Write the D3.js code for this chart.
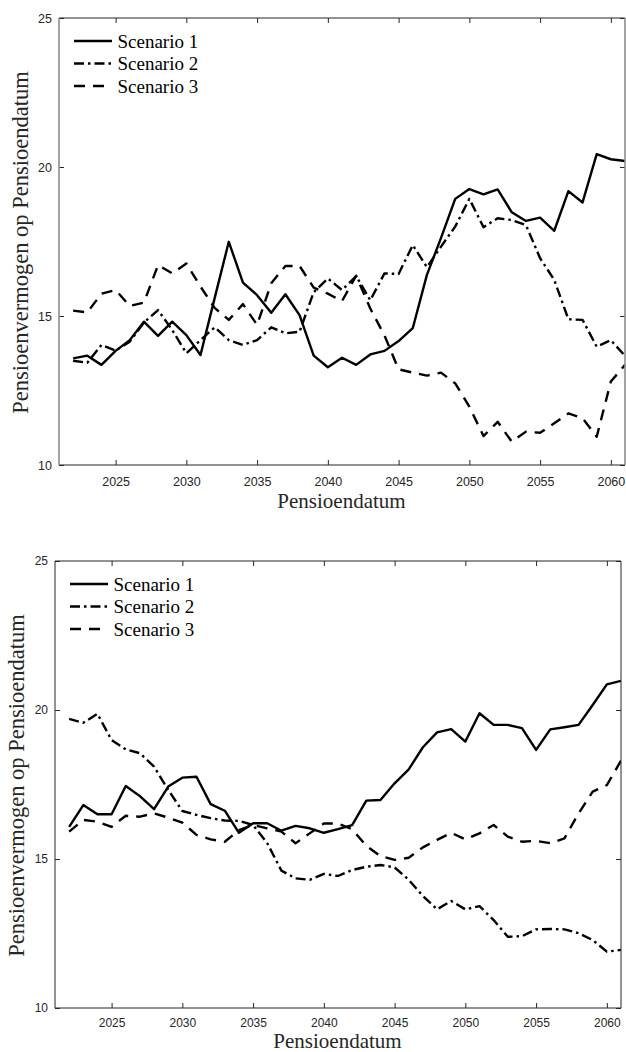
<!DOCTYPE html>
<html>
<head>
<meta charset="utf-8">
<script src="https://cdn.jsdelivr.net/npm/d3@7"></script>
<style>
  html, body { margin: 0; padding: 0; background: #fff; }
  svg { display: block; }
</style>
</head>
<body>
<svg id="chart" width="626" height="1052"></svg>
<script>
// ---------- DATA ----------
const years = [2022,2023,2024,2025,2026,2027,2028,2029,2030,2031,
               2032,2033,2034,2035,2036,2037,2038,2039,2040,2041,
               2042,2043,2044,2045,2046,2047,2048,2049,2050,2051,
               2052,2053,2054,2055,2056,2057,2058,2059,2060,2061];

const seriesNames = ["Scenario 1", "Scenario 2", "Scenario 3"];

// Top panel
const topScenario1 = [13.58,13.67,13.36,13.83,14.19,14.81,14.33,14.81,14.36,13.69,
                      15.60,17.49,16.12,15.70,15.11,15.73,15.03,13.67,13.28,13.60,
                      13.36,13.71,13.83,14.16,14.59,16.38,17.62,18.93,19.26,19.08,
                      19.25,18.48,18.19,18.30,17.86,19.19,18.81,20.43,20.26,20.20];
const topScenario2 = [13.50,13.43,14.03,13.84,14.14,14.78,15.20,14.53,13.75,14.19,
                      14.62,14.19,14.03,14.19,14.62,14.42,14.47,15.80,16.26,15.87,
                      16.34,15.53,16.43,16.41,17.38,16.64,17.33,18.00,18.93,17.98,
                      18.28,18.22,18.05,16.94,16.21,14.89,14.87,13.97,14.19,13.66];
const topScenario3 = [15.18,15.12,15.75,15.87,15.34,15.45,16.71,16.43,16.76,15.99,
                      15.27,14.87,15.40,14.70,16.10,16.68,16.68,15.95,15.75,15.50,
                      16.35,15.25,14.35,13.21,13.10,13.00,13.10,12.74,11.96,10.97,
                      11.45,10.78,11.12,11.08,11.40,11.73,11.57,10.95,12.80,13.36];

// Bottom panel
const botScenario1 = [16.08,16.81,16.50,16.50,17.45,17.11,16.67,17.43,17.73,17.76,
                      16.84,16.62,15.88,16.20,16.20,15.95,16.11,16.03,15.88,16.00,
                      16.14,16.96,16.98,17.54,18.01,18.75,19.25,19.36,18.94,19.89,
                      19.50,19.50,19.39,18.66,19.35,19.42,19.50,20.17,20.86,20.98];
const botScenario2 = [19.70,19.57,19.87,18.99,18.68,18.55,18.10,17.32,16.61,16.48,
                      16.37,16.29,16.28,16.14,15.53,14.61,14.35,14.30,14.50,14.43,
                      14.63,14.74,14.80,14.72,14.30,13.76,13.31,13.59,13.31,13.42,
                      12.95,12.39,12.41,12.64,12.65,12.64,12.51,12.28,11.89,11.95];
const botScenario3 = [15.92,16.31,16.25,16.08,16.45,16.42,16.53,16.39,16.22,15.81,
                      15.66,15.58,15.97,16.14,16.03,15.92,15.53,15.86,16.19,16.19,
                      16.00,15.44,15.10,14.97,15.04,15.39,15.64,15.88,15.66,15.86,
                      16.14,15.75,15.58,15.61,15.53,15.69,16.53,17.26,17.48,18.30];

const xTicks = [2025, 2030, 2035, 2040, 2045, 2050, 2055, 2060];
const yTicks = [10, 15, 20, 25];
const xDomain = [2021, 2061];
const yDomain = [10, 25];
const xTitle = "Pensioendatum";
const yTitle = "Pensioenvermogen op Pensioendatum";

// ---------- DRAW ----------
const svg = d3.select("#chart");
const dashes = [null, "10,4,2.5,4", "11,8"];
const serif = "'Liberation Serif', 'DejaVu Serif', serif";
const sans = "'Liberation Sans', Arial, sans-serif";

function drawPanel(opt, seriesList) {
  const x = d3.scaleLinear().domain(xDomain).range([opt.left, opt.right]);
  const y = d3.scaleLinear().domain(yDomain).range([opt.bottom, opt.top]);
  const g = svg.append("g");

  const clipId = "clip" + opt.id;
  g.append("clipPath").attr("id", clipId).append("rect")
    .attr("x", opt.left).attr("y", opt.top)
    .attr("width", opt.right - opt.left).attr("height", opt.bottom - opt.top);

  // lines
  const line = d3.line().x((d, i) => x(years[i])).y(d => y(d));
  const lg = g.append("g").attr("clip-path", `url(#${clipId})`);
  seriesList.forEach((s, k) => {
    lg.append("path").datum(s)
      .attr("d", line)
      .attr("fill", "none")
      .attr("stroke", "#000")
      .attr("stroke-width", 2.4)
      .attr("stroke-linejoin", "round")
      .attr("stroke-dasharray", dashes[k]);
  });

  // axes (ticks inside)
  const tickLen = 5;
  const axB = d3.axisBottom(x).tickValues(xTicks).tickSize(tickLen).tickFormat(d3.format("d"));
  const gb = g.append("g").attr("transform", `translate(0,${opt.bottom})`).call(axB);
  gb.selectAll(".tick line").attr("y2", -tickLen);
  gb.selectAll(".tick text").attr("y", opt.xTickY);
  const axT = d3.axisTop(x).tickValues(xTicks).tickSize(tickLen).tickFormat("");
  const gt = g.append("g").attr("transform", `translate(0,${opt.top})`).call(axT);
  gt.selectAll(".tick line").attr("y2", tickLen);
  const axL = d3.axisLeft(y).tickValues(yTicks).tickSize(tickLen).tickFormat(d3.format("d"));
  const gl = g.append("g").attr("transform", `translate(${opt.left},0)`).call(axL);
  gl.selectAll(".tick line").attr("x2", tickLen);
  gl.selectAll(".tick text").attr("x", -7);
  const axR = d3.axisRight(y).tickValues(yTicks).tickSize(tickLen).tickFormat("");
  const gr = g.append("g").attr("transform", `translate(${opt.right},0)`).call(axR);
  gr.selectAll(".tick line").attr("x2", -tickLen);

  [gb, gt, gl, gr].forEach(a => {
    a.selectAll(".domain").remove();
    a.selectAll(".tick line").attr("stroke", "#262626").attr("stroke-width", 1);
    a.selectAll(".tick text").attr("fill", "#262626")
      .style("font-family", sans).style("font-size", opt.tickFont);
  });

  // box borders
  const box = [
    [opt.left, opt.bottom, opt.right, opt.bottom, opt.hColor, opt.hWidth],
    [opt.left, opt.top, opt.right, opt.top, opt.hColor, opt.hWidth],
    [opt.left, opt.top, opt.left, opt.bottom, opt.vColor, opt.vWidth],
    [opt.right, opt.top, opt.right, opt.bottom, opt.vColor, opt.vWidth]
  ];
  box.forEach(b => {
    g.append("line").attr("x1", b[0]).attr("y1", b[1]).attr("x2", b[2]).attr("y2", b[3])
      .attr("stroke", b[4]).attr("stroke-width", b[5]);
  });

  // titles
  g.append("text")
    .attr("x", (opt.left + opt.right) / 2 - 0.5)
    .attr("y", opt.bottom + opt.xTitleOffset)
    .attr("text-anchor", "middle")
    .style("font-family", serif).style("font-size", "21px").attr("fill", "#262626")
    .text(xTitle);
  g.append("text")
    .attr("transform", `translate(${opt.left - 31},${(opt.top + opt.bottom) / 2 + 1}) rotate(-90)`)
    .attr("text-anchor", "middle")
    .style("font-family", serif).style("font-size", "22.5px").attr("fill", "#262626")
    .text(yTitle);

  // legend
  const leg = g.append("g");
  seriesNames.forEach((name, k) => {
    const ly = opt.top + 23 + k * 22.5;
    leg.append("line")
      .attr("x1", opt.left + 15).attr("x2", opt.left + 53)
      .attr("y1", ly).attr("y2", ly)
      .attr("stroke", "#000").attr("stroke-width", 2.4)
      .attr("stroke-dasharray", dashes[k]);
    leg.append("text")
      .attr("x", opt.left + 58.5).attr("y", ly + 6.5)
      .style("font-family", serif).style("font-size", "19px").attr("fill", "#000")
      .text(name);
  });
}

drawPanel({id: 1, left: 59, right: 625, top: 18, bottom: 465, xTitleOffset: 43,
           xTickY: 12, tickFont: "12.5px",
           hColor: "#262626", hWidth: 1, vColor: "#8c8c8c", vWidth: 1.6},
          [topScenario1, topScenario2, topScenario3]);
drawPanel({id: 2, left: 55, right: 621, top: 561, bottom: 1008, xTitleOffset: 39.7,
           xTickY: 10, tickFont: "12px",
           hColor: "#262626", hWidth: 1, vColor: "#262626", vWidth: 1},
          [botScenario1, botScenario2, botScenario3]);
</script>
</body>
</html>
